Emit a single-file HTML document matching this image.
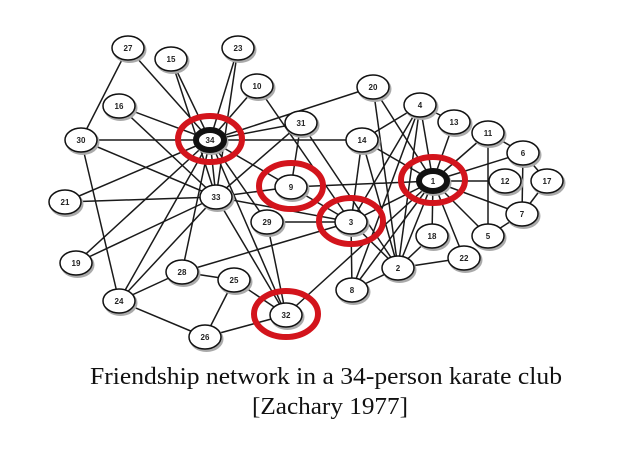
<!DOCTYPE html>
<html><head><meta charset="utf-8"><style>
html,body{margin:0;padding:0;background:#fff;}
svg{display:block;}
</style></head><body>
<svg id="chart" width="623" height="456" viewBox="0 0 623 456" xmlns="http://www.w3.org/2000/svg">
<g id="edges"></g>
<g id="nodes"></g>
<g id="highlights"></g>
<text x="326" y="384" text-anchor="middle" font-family="Liberation Serif, serif" font-size="24" textLength="472" lengthAdjust="spacingAndGlyphs" fill="#111">Friendship network in a 34-person karate club</text>
<text x="330" y="414" text-anchor="middle" font-family="Liberation Serif, serif" font-size="24" textLength="156" lengthAdjust="spacingAndGlyphs" fill="#111">[Zachary 1977]</text>
</svg>
<script>
const nodeIds = [1,2,3,4,5,6,7,8,9,10,11,12,13,14,15,16,17,18,19,20,21,22,23,24,25,26,27,28,29,30,31,32,33,34];
const nodeX = [433,398,351,420,488,523,522,352,291,257,488,505,454,362,171,119,547,432,76,373,65,464,238,119,234,205,128,182,267,81,301,286,216,210];
const nodeY = [181,268,222,105,236,153,214,290,187,86,133,181,122,140,59,106,181,236,263,87,202,258,48,301,280,337,48,272,222,140,123,315,197,140];
const links = [
[1,2],[1,3],[1,4],[1,5],[1,6],[1,7],[1,8],[1,9],[1,11],[1,12],[1,13],[1,14],[1,18],[1,20],[1,22],[1,32],
[2,3],[2,4],[2,8],[2,14],[2,18],[2,20],[2,22],[2,31],
[3,4],[3,8],[3,9],[3,10],[3,14],[3,28],[3,29],[3,33],
[4,8],[4,13],[4,14],[5,7],[5,11],[6,7],[6,11],[6,17],[7,17],
[9,31],[9,33],[9,34],[10,34],[14,34],[15,33],[15,34],[16,33],[16,34],
[19,33],[19,34],[20,34],[21,33],[21,34],[23,33],[23,34],
[24,26],[24,28],[24,30],[24,33],[24,34],[25,26],[25,28],[25,32],[26,32],
[27,30],[27,34],[28,34],[29,32],[29,34],[30,33],[30,34],[31,33],[31,34],[32,33],[32,34],[33,34]
];
const highlighted = [34,9,3,1,32];
const hubs = [1,34];
const NS='http://www.w3.org/2000/svg';
const px = id => nodeX[nodeIds.indexOf(id)];
const py = id => nodeY[nodeIds.indexOf(id)];
const eg=document.getElementById('edges');
links.forEach(l=>{
  const ln=document.createElementNS(NS,'line');
  
  
  ln.setAttribute('x1',px(l[0]));ln.setAttribute('y1',py(l[0]));
  ln.setAttribute('x2',px(l[1]));ln.setAttribute('y2',py(l[1]));
  ln.setAttribute('stroke','#1a1a1a');ln.setAttribute('stroke-width','1.5');
  eg.appendChild(ln);
});
const ng=document.getElementById('nodes');
nodeIds.forEach((id,i)=>{
  const g=document.createElementNS(NS,'g');
  
  
  const hub=hubs.includes(id);
  const sh=document.createElementNS(NS,'ellipse');
  sh.setAttribute('cx',nodeX[i]+1.5);sh.setAttribute('cy',nodeY[i]+2);
  sh.setAttribute('rx',17);sh.setAttribute('ry',13);sh.setAttribute('fill','#aaa');
  g.appendChild(sh);
  const e=document.createElementNS(NS,'ellipse');
  e.setAttribute('cx',nodeX[i]);e.setAttribute('cy',nodeY[i]);
  e.setAttribute('rx',hub?14:16);e.setAttribute('ry',hub?10:12);
  e.setAttribute('fill','#fff');e.setAttribute('stroke','#111');
  e.setAttribute('stroke-width',hub?6:1.5);
  g.appendChild(e);
  const t=document.createElementNS(NS,'text');
  t.setAttribute('x',nodeX[i]);t.setAttribute('y',nodeY[i]+3);
  t.setAttribute('text-anchor','middle');
  t.setAttribute('font-family','Liberation Sans, sans-serif');
  t.setAttribute('font-size','8');t.setAttribute('font-weight','bold');t.setAttribute('fill','#222');
  t.textContent=id;
  g.appendChild(t);
  ng.appendChild(g);
});
const hg=document.getElementById('highlights');
highlighted.forEach(id=>{
  const c=document.createElementNS(NS,'ellipse');
  
  
  c.setAttribute('cx',px(id));c.setAttribute('cy',py(id)-1);
  c.setAttribute('rx',32);c.setAttribute('ry',23);
  c.setAttribute('fill','none');c.setAttribute('stroke','#d3141c');c.setAttribute('stroke-width','6');
  hg.appendChild(c);
});
</script>
</body></html>
